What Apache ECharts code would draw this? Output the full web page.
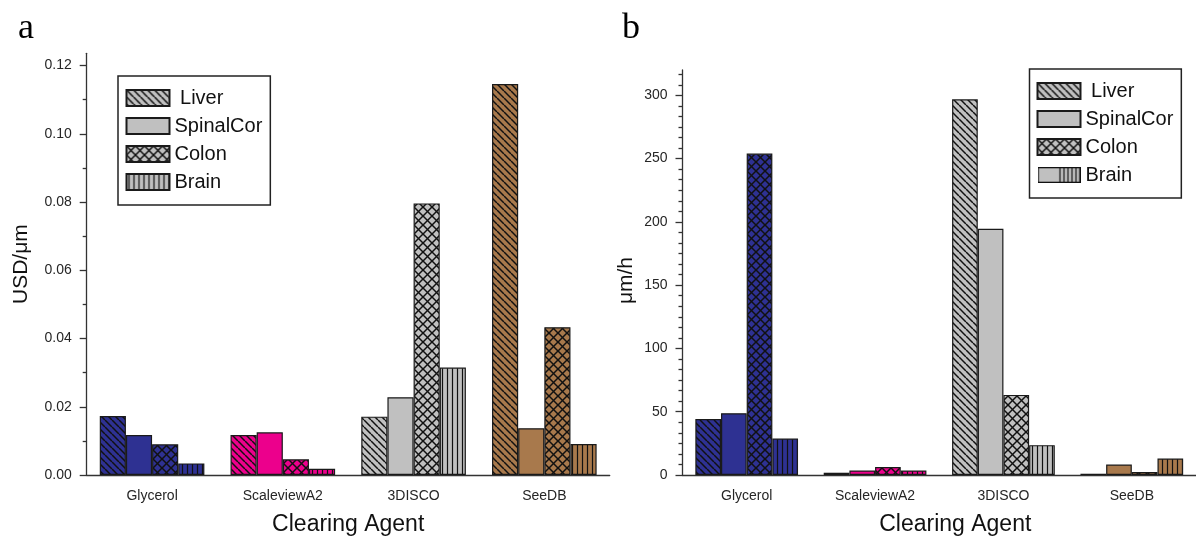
<!DOCTYPE html>
<html><head><meta charset="utf-8">
<script src="https://cdn.jsdelivr.net/npm/echarts@6/dist/echarts.min.js"></script>
<style>html,body{margin:0;padding:0;background:#fff}#c{width:1196px;height:541px}</style>
</head><body><div id="c"></div>
<script>
const categories = ['Glycerol', 'ScaleviewA2', '3DISCO', 'SeeDB'];
const seriesNames = ['Liver', 'SpinalCor', 'Colon', 'Brain'];
// panel a: USD/μm
const costLiver = [0.0173, 0.0117, 0.0171, 0.1146];
const costSpinalCor = [0.0117, 0.0125, 0.0228, 0.0137];
const costColon = [0.0090, 0.0046, 0.0796, 0.0433];
const costBrain = [0.0034, 0.0018, 0.0315, 0.0091];
// panel b: μm/h
const speedLiver = [44.2, 1.8, 296.8, 1.0];
const speedSpinalCor = [48.8, 3.6, 194.6, 8.3];
const speedColon = [254, 6.3, 63.3, 2.3];
const speedBrain = [28.8, 3.6, 23.6, 13];
const costTicks = [0, 0.02, 0.04, 0.06, 0.08, 0.10, 0.12];
const speedTicks = [0, 50, 100, 150, 200, 250, 300];

const costMax = 0.1236, speedMax = 320;
const costMinor = [];
for (let i = 0; i < costTicks.length - 1; i++) costMinor.push((costTicks[i] + costTicks[i + 1]) / 2);
const speedMinor = [];
for (let i = 0; i < speedTicks.length; i++) {
  for (let j = 1; j < 6; j++) {
    const v = speedTicks[i] + j * 50 / 6;
    if (v < speedMax) speedMinor.push(v);
  }
}

const kinds = ['diag', 'solid', 'cross', 'vert'];
const catColors = ['#2e3192', '#ec008c', '#c0c0c0', '#a8794c'];
const legendGrey = '#c0c0c0';

function makePattern(fill, kind) {
  const s = kind === 'cross' ? 9 : kind === 'diag' ? 7 : kind === 'vert' ? 5 : 4;
  const c = document.createElement('canvas');
  c.width = s; c.height = s;
  const g = c.getContext('2d');
  g.fillStyle = fill; g.fillRect(0, 0, s, s);
  g.strokeStyle = '#111'; g.lineWidth = 1.5;
  if (kind === 'diag' || kind === 'cross') {
    for (const k of [-1, 0, 1]) { g.beginPath(); g.moveTo(k * s, 0); g.lineTo(k * s + s, s); g.stroke(); }
  }
  if (kind === 'cross') {
    for (const k of [-1, 0, 1]) { g.beginPath(); g.moveTo(k * s, s); g.lineTo(k * s + s, 0); g.stroke(); }
  }
  if (kind === 'vert') { g.lineWidth = 1.2; g.beginPath(); g.moveTo(s / 2, 0); g.lineTo(s / 2, s); g.stroke(); }
  return { image: c, repeat: 'repeat' };
}

function halfBrainIcon() {
  const w = 43, h = 16;
  const c = document.createElement('canvas');
  c.width = w; c.height = h;
  const g = c.getContext('2d');
  g.fillStyle = legendGrey; g.fillRect(0, 0, w, h);
  g.strokeStyle = '#111'; g.lineWidth = 1.2;
  for (let x = 22.5; x < w - 1; x += 4) { g.beginPath(); g.moveTo(x, 0); g.lineTo(x, h); g.stroke(); }
  g.lineWidth = 1.3; g.strokeRect(0.65, 0.65, w - 1.3, h - 1.3);
  return 'image://' + c.toDataURL();
}

function buildSeries(values, xi, yi) {
  return seriesNames.map((n, si) => ({
    name: n, type: 'bar', xAxisIndex: xi, yAxisIndex: yi,
    barWidth: '20%', barGap: '0%',
    itemStyle: { color: makePattern(legendGrey, kinds[si]), borderColor: '#1a1a1a', borderWidth: 1.2 },
    emphasis: { disabled: true },
    data: values[si].map((v, ci) => ({ value: v, itemStyle: { color: makePattern(catColors[ci], kinds[si]) } }))
  }));
}

const font = '"Liberation Sans", Arial, sans-serif';
const axisLineStyle = { color: '#333', width: 1.3 };
const tickLabel = { color: '#262626', fontSize: 14, fontFamily: font };

function catAxes(gridIndex, nameShift) {
  return [
    {
      type: 'category', gridIndex, data: categories, position: 'bottom',
      axisLine: { lineStyle: axisLineStyle },
      axisTick: { alignWithLabel: true, length: 7, lineStyle: axisLineStyle },
      axisLabel: Object.assign({ margin: 14 }, tickLabel),
      name: 'Clearing Agent', nameLocation: 'middle', nameGap: 38,
      nameTextStyle: { fontSize: 23, color: '#111', fontFamily: font, padding: [0, 0, 0, nameShift] }
    },
    {
      type: 'category', gridIndex, data: categories, position: 'bottom',
      axisLine: { show: false },
      axisTick: { length: 3.5, lineStyle: axisLineStyle },
      axisLabel: { show: false }
    }
  ];
}

function valAxes(gridIndex, max, ticks, minor, name, gap, fmt, namePad) {
  return [
    {
      type: 'value', gridIndex, min: 0, max, position: 'left',
      axisLine: { show: true, lineStyle: axisLineStyle },
      axisTick: { show: true, length: 7, customValues: ticks, lineStyle: axisLineStyle },
      axisLabel: Object.assign({ margin: 15, customValues: ticks, formatter: fmt }, tickLabel),
      splitLine: { show: false },
      name, nameLocation: 'middle', nameRotate: 90, nameGap: gap,
      nameTextStyle: { fontSize: 21, color: '#111', fontFamily: font, padding: namePad }
    },
    {
      type: 'value', gridIndex, min: 0, max, position: 'left',
      axisLine: { show: false },
      axisTick: { show: true, length: 4, customValues: minor, lineStyle: axisLineStyle },
      axisLabel: { show: false },
      splitLine: { show: false }
    }
  ];
}

const legendCommon = {
  orient: 'vertical', align: 'left', icon: 'rect', itemWidth: 43, itemHeight: 16, itemGap: 8, itemTextGap: 6,
  backgroundColor: '#fff', borderColor: '#222', borderWidth: 1.5,
  selectedMode: false,
  textStyle: { fontSize: 20, color: '#111', fontFamily: font, lineHeight: 16 },
  formatter: (n) => n === 'Liver' ? ' ' + n : n
};

const chart = echarts.init(document.getElementById('c'), null, { renderer: 'canvas' });
chart.setOption({
  animation: false,
  backgroundColor: '#fff',
  grid: [
    { left: 86.7, top: 53.3, width: 523, height: 424.7 },
    { left: 682.5, top: 70, width: 517, height: 409 }
  ],
  xAxis: catAxes(0, 0).concat(catAxes(1, 32)),
  yAxis: valAxes(0, costMax, costTicks, costMinor, 'USD/μm', 55, (v) => v.toFixed(2), [0, 0, 0, 0])
    .concat(valAxes(1, speedMax, speedTicks, speedMinor, 'μm/h', 46, (v) => String(v), [0, 16, 0, 0])),
  legend: [
    Object.assign({}, legendCommon, { left: 118, top: 76, padding: [12, 8, 13, 7.5], data: seriesNames.slice() }),
    Object.assign({}, legendCommon, { left: 1029.5, top: 69, padding: [12, 8, 13, 7],
      data: ['Liver', 'SpinalCor', 'Colon', { name: 'Brain', icon: halfBrainIcon() }] })
  ],
  graphic: [
    { type: 'text', left: 18, top: 11, style: { text: 'a', font: '36px "Liberation Serif", serif', fill: '#000' } },
    { type: 'text', left: 622, top: 11, style: { text: 'b', font: '36px "Liberation Serif", serif', fill: '#000' } }
  ],
  series: buildSeries([costLiver, costSpinalCor, costColon, costBrain], 0, 0)
    .concat(buildSeries([speedLiver, speedSpinalCor, speedColon, speedBrain], 2, 2))
});
</script></body></html>
